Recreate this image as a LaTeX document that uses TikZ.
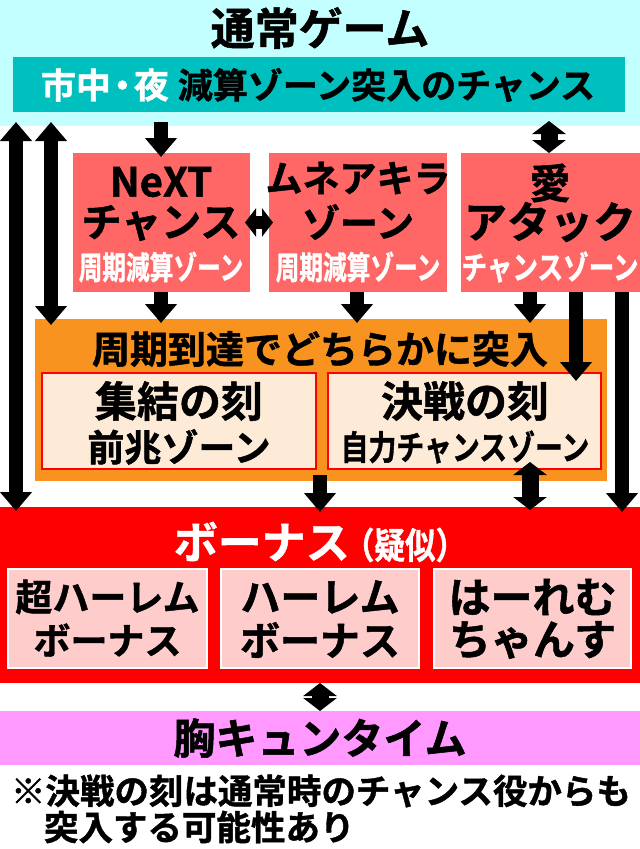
\documentclass[tikz,border=0pt]{standalone}
\usepackage{fontspec}
\usepackage{graphicx}
\setmainfont{Noto Sans CJK JP}[BoldFont={Noto Sans CJK JP Bold},BoldFeatures={FakeBold=1.2}]
\usetikzlibrary{arrows.meta}
\definecolor{cyanbg}{HTML}{C4FFFF}
\definecolor{tealbar}{HTML}{00BFBF}
\definecolor{salmon}{HTML}{FF6666}
\definecolor{orangebg}{HTML}{F7931E}
\definecolor{peach}{HTML}{FDEBD7}
\definecolor{redbg}{HTML}{FF0000}
\definecolor{pinkbox}{HTML}{FFCCCC}
\definecolor{magentabg}{HTML}{FF99FF}
\tikzset{
  panel/.style={anchor=north west, inner sep=0pt, outer sep=0pt},
  txt/.style={inner sep=0pt, outer sep=0pt, font=\bfseries\fontsize{#1}{#1}\selectfont},
  bigarrow/.style={line width=14pt, -{Triangle[width=31pt,length=19pt]}},
  bigdbl/.style={line width=14pt, {Triangle[width=31pt,length=19pt]}-{Triangle[width=31pt,length=19pt]}},
  smalldbl/.style={line width=17pt, {Triangle[width=33pt,length=13pt]}-{Triangle[width=33pt,length=13pt]}},
  hdbl/.style={line width=13pt, {Triangle[width=28pt,length=11pt]}-{Triangle[width=28pt,length=11pt]}},
}
\newcommand{\cond}[2]{\scalebox{#1}[1]{#2}}
\begin{document}
\begin{tikzpicture}[x=1pt,y=-1pt]
\useasboundingbox (0,0) rectangle (640,849);
% panels
\node[panel, fill=cyanbg, minimum width=640pt, minimum height=126pt] (normal) at (0,0) {};
\node[panel, fill=tealbar, minimum width=612pt, minimum height=55pt] (teal) at (13,57) {};
\node[panel, fill=salmon, minimum width=177pt, minimum height=139pt] (next) at (73,153) {};
\node[panel, fill=salmon, minimum width=178pt, minimum height=139pt] (mune) at (269,153) {};
\node[panel, fill=salmon, minimum width=179pt, minimum height=139pt] (ai) at (461,153) {};
\node[panel, fill=orangebg, minimum width=572pt, minimum height=162pt] (orange) at (35,319) {};
\node[panel, fill=peach, draw=redbg, line width=2.5pt, minimum width=274pt, minimum height=96pt] (shuketsu) at (42,373) {};
\node[panel, fill=peach, draw=redbg, line width=2.5pt, minimum width=273pt, minimum height=96pt] (kessen) at (328,373) {};
\node[panel, fill=redbg, minimum width=640pt, minimum height=176pt] (bonus) at (0,507) {};
\node[panel, fill=pinkbox, draw=white, line width=2.5pt, minimum width=199pt, minimum height=99pt] (bA) at (8,569) {};
\node[panel, fill=pinkbox, draw=white, line width=2.5pt, minimum width=198pt, minimum height=99pt] (bB) at (221,569) {};
\node[panel, fill=pinkbox, draw=white, line width=2.5pt, minimum width=197pt, minimum height=99pt] (bC) at (434,569) {};
\node[panel, fill=magentabg, minimum width=640pt, minimum height=54pt] (kyun) at (0,711) {};
% texts
\node[txt=44] (tTitle) at (320,28) {通常ゲーム};
\node[txt=35] (tTeal) at (318,85) {\textcolor{white}{市中\hspace{-6pt}・\hspace{-6pt}夜}\hspace{9pt}減算ゾーン突入のチャンス};
\node[txt=40] (tNext1) at (161,182) {NeXT};
\node[txt=40] (tNext2) at (161,223) {チャンス};
\node[txt=32, text=white] (tNext3) at (161,267) {\cond{0.74}{周期減算ゾーン}};
\node[txt=37] (tMune1) at (358,178) {ムネアキラ};
\node[txt=38] (tMune2) at (358,222) {ゾーン};
\node[txt=32, text=white] (tMune3) at (358,267) {\cond{0.74}{周期減算ゾーン}};
\node[txt=41] (tAi1) at (550,183) {愛};
\node[txt=43] (tAi2) at (550,222) {アタック};
\node[txt=32, text=white] (tAi3) at (550,267) {\cond{0.8}{チャンスゾーン}};
\node[txt=38] (tOrange) at (320,349) {周期到達でどちらかに突入};
\node[txt=42] (tSh1) at (179,401) {集結の刻};
\node[txt=37] (tSh2) at (179,447) {前兆ゾーン};
\node[txt=42] (tKe1) at (465,401) {決戦の刻};
\node[txt=34] (tKe2) at (465,447) {\cond{0.82}{自力チャンスゾーン}};
\node[txt=44, text=white] (tBonus) at (320,542) {ボーナス\hspace{-6pt}{\fontsize{36}{36}\selectfont\cond{0.85}{（疑似）}}};
\node[txt=37] (tBA1) at (107.5,597) {超ハーレム};
\node[txt=37] (tBA2) at (107.5,640) {ボーナス};
\node[txt=40] (tBB1) at (320,597) {ハーレム};
\node[txt=40] (tBB2) at (320,640) {ボーナス};
\node[txt=42] (tBC1) at (532.5,597) {はーれむ};
\node[txt=42] (tBC2) at (532.5,640) {ちゃんす};
\node[txt=42] (tKyun) at (320,738) {胸キュンタイム};
\node[txt=34.5, anchor=west] (tFoot1) at (11,791) {※決戦の刻は通常時のチャンス役からも};
\node[txt=34.5, anchor=west] (tFoot2) at (44,827) {突入する可能性あり};
% arrow columns
\coordinate (xA) at (16,0);
\coordinate (xB) at (51,0);
\coordinate (xC) at (161,0);
\coordinate (xD) at (357,0);
\coordinate (xE) at (530,0);
\coordinate (xF) at (576,0);
\coordinate (xG) at (622,0);
\coordinate (xH) at (549,0);
\coordinate (xM) at (320,0);
% connectors
\draw[bigdbl] ([yshift=4pt]normal.south -| xA) -- ([yshift=-4pt]bonus.north -| xA);
\draw[bigdbl] ([yshift=4pt]normal.south -| xB) -- ([yshift=-6pt]orange.north -| xB);
\draw[bigarrow] ([yshift=4pt]normal.south -| xC) -- ([yshift=-4pt]next.north -| xC);
\draw[smalldbl] ([yshift=5pt]normal.south -| xH) -- (ai.north -| xH);
\draw[hdbl] ([xshift=-5pt]next.east) -- ([xshift=4pt]mune.west);
\draw[bigarrow] (next.south -| xC) -- ([yshift=-4pt]orange.north -| xC);
\draw[bigarrow] (mune.south -| xD) -- ([yshift=-4pt]orange.north -| xD);
\draw[bigarrow] (ai.south -| xE) -- ([yshift=-4pt]orange.north -| xE);
\draw[bigarrow] (ai.south -| xF) -- ([yshift=-8pt]kessen.north -| xF);
\draw[bigarrow] (ai.south -| xG) -- ([yshift=-5pt]bonus.north -| xG);
\draw[bigarrow] ([yshift=6pt]orange.south -| xM) -- ([yshift=-5pt]bonus.north -| xM);
\draw[smalldbl] ([yshift=7pt]kessen.south -| xE) -- ([yshift=-3pt]bonus.north -| xE);
\draw[smalldbl] (bonus.south -| xM) -- (kyun.north -| xM);
\end{tikzpicture}
\end{document}
